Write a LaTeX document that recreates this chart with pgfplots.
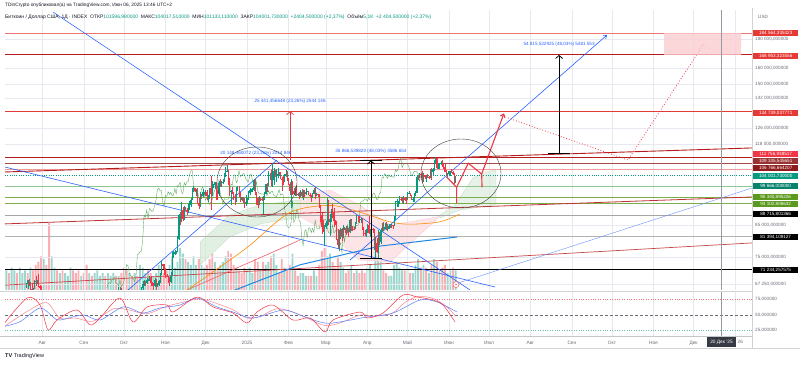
\documentclass[border=0pt]{standalone}
\usepackage{pgfplots}
\usepackage{pgfplotstable}
\pgfplotsset{compat=1.18}
\usepackage{fontspec}
\setmainfont{Liberation Sans}
\usetikzlibrary{arrows.meta}
\definecolor{tvgreen}{HTML}{089981}
\definecolor{tvred}{HTML}{F23645}
\definecolor{dred}{HTML}{B71C1C}
\definecolor{mred}{HTML}{E53935}
\definecolor{maroon}{HTML}{8E1B1B}
\definecolor{tvblue}{HTML}{2962FF}
\definecolor{lblue}{HTML}{1E88E5}
\definecolor{gridc}{HTML}{E6EAF0}
\definecolor{olivec}{HTML}{5B9A1E}
\definecolor{txt}{HTML}{131722}
\definecolor{gtxt}{HTML}{6A6D78}
\definecolor{chik}{HTML}{43A047}
% price axis is logarithmic: prices (in thousand USD) are mapped by ln()
\pgfplotsset{lg/.style={y filter/.expression={ln(y)}}}

\pgfplotstableread{
x o h l c
-165 66.7 67.6 66.2 67.2
-164 67.2 68.4 65.8 68.2
-163 68.2 68.5 66.6 67.6
-162 67.6 67.8 65.5 65.9
-161 65.9 67.1 65.1 65.4
-160 65.4 66.1 63.5 65.8
-159 65.8 68.2 65.8 68.0
-158 68.0 69.4 66.7 67.9
-157 67.9 68.3 67.1 68.3
-156 68.3 70.0 66.5 66.8
-155 66.8 66.9 65.3 66.2
-154 66.2 66.8 64.5 64.6
-153 64.6 65.6 62.3 65.4
-152 65.4 65.6 61.2 61.4
-151 61.4 62.2 59.9 60.7
-96 65.2 66.5 64.8 65.8
-95 65.8 66.3 65.4 65.9
-94 65.9 66.1 65.4 65.6
-79 62.9 66.5 62.4 66.1
-78 66.1 67.9 64.9 67.1
-77 67.1 68.4 66.7 67.6
-76 67.6 67.9 66.7 67.4
-75 67.4 68.9 67.1 68.4
-74 68.4 68.7 68.0 68.5
-73 68.5 69.3 68.1 69.0
-72 69.0 69.5 66.6 67.4
-71 67.4 67.8 66.6 67.3
-70 67.3 67.5 65.3 66.7
-69 66.7 68.8 66.5 68.2
-68 68.2 68.7 65.5 66.6
-67 66.6 67.4 66.5 67.0
-66 67.0 68.3 66.8 68.0
-65 68.0 70.2 67.5 69.9
-64 69.9 73.6 69.7 72.7
-63 72.7 72.9 71.4 72.3
-62 72.3 72.7 69.7 70.2
-61 70.2 71.6 68.8 69.5
-60 69.5 70.0 69.0 69.3
-59 69.3 69.4 67.5 68.7
-58 68.7 69.0 66.8 67.8
-57 67.8 70.5 67.5 69.4
-56 69.4 76.4 69.3 75.6
-55 75.6 76.9 74.6 75.9
-54 75.9 77.2 75.6 76.5
-53 76.5 76.9 75.8 76.7
-52 76.7 81.5 76.5 80.4
-51 80.4 89.0 80.2 88.7
-50 88.7 89.9 85.1 87.9
-49 87.9 93.4 86.2 90.5
-48 90.5 91.8 86.7 87.4
-47 87.4 91.9 87.1 91.1
-46 91.1 91.8 90.1 90.6
-45 90.6 91.4 88.8 89.9
-44 89.9 92.6 89.4 90.5
-43 90.5 94.0 90.4 92.3
-42 92.3 94.9 91.5 94.3
-41 94.3 99.0 94.1 98.4
-40 98.4 99.6 97.2 98.9
-39 98.9 98.9 97.2 97.7
-38 97.7 98.6 95.7 97.9
-37 97.9 98.9 92.6 93.0
-36 93.0 94.9 90.8 91.9
-35 91.9 97.2 91.6 96.0
-34 96.0 96.6 94.6 95.6
-33 95.6 98.7 95.4 97.4
-32 97.4 97.5 96.1 96.4
-31 96.4 98.0 95.7 97.2
-30 97.2 98.1 94.4 95.8
-29 95.8 96.3 93.6 96.0
-28 96.0 99.0 94.7 98.8
-27 98.8 104.0 90.5 96.6
-26 96.6 101.9 95.9 99.9
-25 99.9 100.5 99.0 100.0
-24 100.0 101.4 98.7 101.2
-23 101.2 101.2 94.2 97.4
-22 97.4 98.3 94.3 96.6
-21 96.6 101.9 95.7 101.1
-20 101.1 102.5 99.3 100.0
-19 100.0 101.9 99.2 101.4
-18 101.4 102.6 100.6 101.5
-17 101.5 105.1 101.2 104.3
-16 104.3 107.8 103.3 106.0
-15 106.0 108.4 105.3 106.1
-14 106.1 106.5 100.0 100.2
-13 100.2 102.8 95.7 97.5
-12 97.5 98.1 92.2 97.8
-11 97.8 99.5 96.4 97.3
-10 97.3 97.4 94.2 95.2
-9 95.2 96.5 92.5 94.9
-8 94.9 99.4 93.4 98.7
-7 98.7 99.9 97.6 99.4
-6 99.4 99.9 95.2 95.8
-5 95.8 97.5 93.5 94.2
-4 94.2 95.5 94.0 95.2
-3 95.2 95.2 93.1 93.6
-2 93.6 94.9 91.3 92.6
-1 92.6 96.1 92.0 93.4
0 93.4 94.9 92.7 94.4
1 94.4 97.8 94.2 96.9
2 96.9 98.9 96.1 98.1
3 98.1 98.7 97.5 98.2
4 98.2 98.8 97.3 98.3
5 98.3 102.5 97.9 102.1
6 102.1 102.7 96.1 96.9
7 96.9 97.2 92.5 95.0
8 95.0 95.3 91.2 92.5
9 92.5 95.8 92.2 94.7
10 94.7 94.9 93.8 94.6
11 94.6 95.4 93.7 94.5
12 94.5 95.9 89.2 94.6
13 94.6 97.3 94.3 96.5
14 96.5 100.7 96.5 100.5
15 100.5 100.9 97.4 99.9
16 99.9 105.9 99.9 104.1
17 104.1 104.9 102.3 104.4
18 104.4 106.3 99.6 101.1
19 101.1 109.6 99.5 102.0
20 102.0 107.2 100.1 106.1
21 106.1 106.4 103.3 103.6
22 103.6 106.9 101.2 104.0
23 104.0 107.1 102.8 104.8
24 104.8 105.3 104.1 104.7
25 104.7 105.5 102.5 102.6
26 102.6 103.2 97.8 102.0
27 102.0 103.8 100.3 101.3
28 101.3 104.8 101.3 103.7
29 103.7 106.4 103.3 104.7
30 104.7 106.0 101.6 102.4
31 102.4 102.8 100.3 100.6
32 100.6 101.5 96.2 97.7
33 97.7 102.5 91.2 101.4
34 101.4 101.7 96.2 97.8
35 97.8 98.8 96.2 96.6
36 96.6 99.2 95.7 96.7
37 96.7 100.1 95.6 96.5
38 96.5 96.9 95.7 96.6
39 96.6 97.3 94.7 96.2
40 96.2 98.3 95.3 97.4
41 97.4 98.5 94.9 95.8
42 95.8 98.1 94.1 97.9
43 97.9 98.0 95.2 96.6
44 96.6 98.8 96.3 97.5
45 97.5 97.9 97.2 97.6
46 97.6 97.7 96.1 96.1
47 96.1 97.0 95.2 95.8
48 95.8 96.0 93.4 95.5
49 95.5 96.9 95.1 96.6
50 96.6 98.8 96.4 98.3
51 98.3 99.5 94.8 96.1
52 96.1 96.9 95.8 96.5
53 96.5 96.6 95.2 96.3
54 96.3 96.5 91.2 91.4
55 91.4 92.5 86.1 88.7
56 88.7 89.3 82.3 84.7
57 84.7 87.1 82.8 84.4
58 84.4 85.1 78.2 84.5
59 84.5 86.6 83.8 86.0
60 86.0 95.0 85.0 94.3
61 94.3 94.4 85.1 86.1
62 86.1 88.9 81.4 87.2
63 87.2 91.0 86.3 90.6
64 90.6 92.8 87.8 89.9
65 89.9 91.2 84.7 86.7
66 86.7 86.8 85.3 86.2
67 86.2 86.5 80.1 80.7
68 80.7 83.9 77.5 78.5
69 78.5 83.6 76.6 82.9
70 82.9 84.3 80.6 83.7
71 83.7 84.3 79.9 81.1
72 81.1 85.3 80.8 84.0
73 84.0 84.7 83.6 84.3
74 84.3 85.0 82.0 82.6
75 82.6 84.8 82.5 84.1
76 84.1 84.1 81.2 82.7
77 82.7 87.4 82.5 86.9
78 86.9 87.4 83.2 84.2
79 84.2 84.8 83.2 84.0
80 84.0 84.6 83.6 83.8
81 83.8 86.1 83.8 86.1
82 86.1 88.8 85.6 87.5
83 87.5 88.5 86.3 87.4
84 87.4 88.3 85.9 86.9
85 86.9 87.8 85.9 87.2
86 87.2 87.5 83.6 84.4
87 84.4 84.6 81.6 82.6
88 82.6 83.5 81.6 82.4
89 82.4 83.9 81.3 82.5
90 82.5 85.5 82.4 85.2
91 85.2 88.5 82.3 82.5
92 82.5 83.9 81.2 83.1
93 83.1 84.7 81.7 83.8
94 83.8 84.2 82.4 83.5
95 83.5 83.8 77.2 78.4
96 78.4 81.2 74.4 79.2
97 79.2 80.8 76.2 76.3
98 76.3 83.5 74.6 82.6
99 82.6 82.7 78.5 79.6
100 79.6 84.2 78.9 83.4
101 83.4 85.8 82.8 85.3
102 85.3 86.1 83.1 83.7
103 83.7 85.8 83.7 84.5
104 84.5 86.4 83.6 83.6
105 83.6 85.5 83.1 84.0
106 84.0 85.5 83.8 84.9
107 84.9 85.1 84.3 84.5
108 84.5 85.6 84.3 85.1
109 85.1 85.3 83.9 85.0
110 85.0 88.4 85.0 87.5
111 87.5 93.8 87.1 93.4
112 93.4 94.7 91.7 93.7
113 93.7 94.0 91.7 93.9
114 93.9 95.8 92.9 94.7
115 94.7 95.3 93.9 94.6
116 94.6 95.3 93.0 93.8
117 93.8 95.6 92.9 95.0
118 95.0 95.5 93.8 94.3
119 94.3 95.2 92.9 94.2
120 94.2 97.4 94.1 96.5
121 96.5 97.9 96.4 96.9
122 96.9 96.9 95.7 95.9
123 95.9 96.3 94.2 94.3
124 94.3 95.2 93.5 94.7
125 94.7 96.9 93.4 96.8
126 96.8 97.7 95.8 97.0
127 97.0 103.9 96.9 103.2
128 103.2 104.3 102.3 103.0
129 103.0 104.9 102.8 104.8
130 104.8 105.0 103.0 104.1
131 104.1 105.8 100.8 102.8
132 102.8 105.0 101.5 104.2
133 104.2 104.3 102.6 103.5
134 103.5 104.2 101.4 103.7
135 103.7 104.6 103.1 103.5
136 103.5 103.7 102.6 103.2
137 103.2 106.7 103.1 106.5
138 106.5 107.1 102.0 105.6
139 105.6 107.3 104.2 106.8
140 106.8 110.8 106.1 109.7
141 109.7 112.0 109.3 111.7
142 111.7 111.8 106.8 107.3
143 107.3 109.5 106.9 108.9
144 108.9 109.3 106.6 109.0
145 109.0 110.4 108.7 109.4
146 109.4 110.7 107.6 108.9
147 108.9 109.3 106.8 107.8
148 107.8 108.9 105.3 105.6
149 105.6 106.3 103.6 103.9
150 103.9 104.9 103.1 104.6
151 104.6 105.9 103.8 105.7
152 105.7 105.9 103.7 105.8
153 105.8 106.8 105.0 105.4
154 105.4 106.0 104.2 104.7
155 104.7 105.0 100.4 101.6
156 101.6 104.0 101.1 104.0
}\candles

\pgfplotstableread{
x v d
-180 7 1
-178 6 0
-176 8 1
-174 7 1
-172 6 0
-170 8 1
-168 6 1
-166 7 1
-164 6 0
-162 8 1
-160 7 0
-158 9 0
-156 10 0
-154 12 0
-152 11 1
-150 9 0
-148 24 0
-146 12 1
-144 8 1
-142 7 0
-140 6 1
-138 7 0
-136 6 1
-134 5 1
-132 8 1
-130 7 0
-128 6 0
-126 7 0
-124 5 1
-122 6 0
-120 9 0
-118 6 1
-116 5 0
-114 6 1
-112 7 1
-110 5 1
-108 6 1
-106 5 0
-104 6 1
-102 5 1
-100 6 1
-98 5 0
-96 5 1
-94 6 0
-92 8 0
-90 7 0
-88 6 1
-86 5 0
-84 6 1
-82 5 0
-80 9 1
-78 8 1
-76 6 1
-74 7 0
-72 6 0
-70 5 1
-68 6 1
-66 9 1
-64 7 0
-62 6 0
-60 7 0
-58 9 1
-56 12 1
-54 8 1
-52 10 1
-50 15 1
-48 13 1
-46 11 0
-44 10 1
-42 9 1
-40 12 1
-38 9 1
-36 11 0
-34 9 1
-32 8 1
-30 9 0
-28 11 0
-26 13 0
-24 10 1
-22 8 0
-20 9 1
-18 10 1
-16 12 1
-14 14 0
-12 13 0
-10 9 0
-8 8 1
-6 7 0
-4 6 0
-2 8 0
0 7 1
2 8 1
4 6 1
6 11 0
8 10 0
10 7 1
12 10 0
14 9 1
16 10 1
18 12 0
20 13 1
22 9 1
24 6 0
26 11 0
28 8 1
30 7 0
32 9 0
34 13 1
36 7 0
38 5 0
40 6 1
42 6 1
44 5 1
46 5 0
48 5 0
50 7 1
52 5 1
54 9 0
56 14 0
58 15 0
60 12 1
62 13 1
64 10 0
66 8 0
68 12 0
70 10 1
72 8 1
74 6 0
76 7 0
78 9 1
80 6 0
82 7 1
84 6 0
86 7 0
88 6 0
90 8 1
92 9 1
94 7 0
96 14 1
98 12 1
100 10 1
102 7 0
104 6 0
106 5 1
108 5 1
110 9 1
112 10 1
114 8 1
116 7 1
118 7 0
120 8 1
122 6 0
124 6 1
126 9 1
128 11 1
130 8 0
132 9 1
134 8 0
136 6 1
138 9 0
140 11 1
142 10 0
144 7 1
146 8 0
148 9 0
150 6 1
152 7 1
154 8 0
156 7 1
}\volume

% build candle segment lists (log prices) from the table
\pgfplotstablegetrowsof{\candles}
\pgfmathtruncatemacro\nrows{\pgfplotsretval-1}
\gdef\wup{}\gdef\wdn{}\gdef\bup{}\gdef\bdn{}
\foreach \i in {0,...,\nrows}{%
  \pgfplotstablegetelem{\i}{x}\of\candles\edef\cx{\pgfplotsretval}%
  \pgfplotstablegetelem{\i}{o}\of\candles\edef\co{\pgfplotsretval}%
  \pgfplotstablegetelem{\i}{h}\of\candles\edef\ch{\pgfplotsretval}%
  \pgfplotstablegetelem{\i}{l}\of\candles\edef\cl{\pgfplotsretval}%
  \pgfplotstablegetelem{\i}{c}\of\candles\edef\cc{\pgfplotsretval}%
  \pgfmathparse{ln(\co)}\edef\lo{\pgfmathresult}%
  \pgfmathparse{ln(\ch)}\edef\lh{\pgfmathresult}%
  \pgfmathparse{ln(\cl)}\edef\ll{\pgfmathresult}%
  \pgfmathparse{ln(\cc)}\edef\lc{\pgfmathresult}%
  \ifdim\cc pt<\co pt
    \xdef\wdn{\wdn(\cx,\ll)(\cx,\lh)(\cx,nan)}%
    \xdef\bdn{\bdn(\cx,\lo)(\cx,\lc)(\cx,nan)}%
  \else
    \xdef\wup{\wup(\cx,\ll)(\cx,\lh)(\cx,nan)}%
    \xdef\bup{\bup(\cx,\lo)(\cx,\lc)(\cx,nan)}%
  \fi
}

\tikzset{lvl/.style={font=\fontsize{4.6}{5}\selectfont, text=white, anchor=west, inner xsep=1pt, inner ysep=0pt, minimum width=45pt, minimum height=6.8pt}}
\tikzset{ann/.style={font=\fontsize{4.6}{5}\selectfont, text=tvblue}}

\begin{document}
\begin{tikzpicture}
\fill[white] (0pt,0pt) rectangle (800pt,364pt);
\useasboundingbox (0pt,0pt) rectangle (800pt,364pt);

% volume
\begin{axis}[at={(5pt,74pt)}, anchor=south west, width=747pt, height=280pt, scale only axis,
  xmin=-181, xmax=377.7, ymin=0, ymax=100, hide axis]
\addplot[ybar, bar width=1.9pt, fill=tvgreen!40, draw=none, restrict expr to domain={\thisrow{d}}{1:1}] table[x=x,y=v]{\volume};
\addplot[ybar, bar width=1.9pt, fill=tvred!40, draw=none, restrict expr to domain={\thisrow{d}}{0:0}] table[x=x,y=v]{\volume};
\end{axis}

% main price panel (y = ln of price in thousand USD)
\begin{axis}[at={(5pt,74pt)}, anchor=south west, width=747pt, height=280pt, scale only axis,
  xmin=-181, xmax=377.7, ymin=4.1836, ymax=5.3105,
  axis line style={draw=none}, major tick length=0pt,
  xtick={-153,-122,-92,-61,-31,0,31,59,90,120,151,181,212,243,273,304,334,365},
  xticklabels={},
  ytick={4.2084,4.3175,4.4427,4.7707,4.8363,4.9558,5.0106,5.0752,5.1930},
  yticklabels={{67 250,000000},{75 000,000000},{85 000,000000},{118 000,000000},{126 000,000000},{142 000,000000},{150 000,000000},{160 000,000000},{180 000,000000}},
  yticklabel pos=right,
  yticklabel style={font=\fontsize{4.6}{5}\selectfont, text=gtxt, inner sep=0pt, xshift=3pt},
  grid=major, major grid style={gridc, line width=0.4pt}]

% cloud areas
\addplot[lg, fill=chik!25, draw=chik!40, fill opacity=0.6, line width=0.2pt] coordinates {(-35,79.6)(-13,88.7)(10,92.4)(40,94.3)(40,88.0)(10,85.6)(-13,81.2)(-35,72.6)(-35,79.6)};
\addplot[lg, fill=tvred!18, draw=tvred!30, fill opacity=0.7, line width=0.2pt] coordinates {(40,96.2)(62,98.1)(84,92.4)(107,85.2)(144.4,88.2)(107,73.4)(84,74.0)(62,82.5)(40,88.0)(40,96.2)};
\addplot[lg, fill=chik!22, draw=chik!40, fill opacity=0.6, line width=0.2pt] coordinates {(144.4,88.7)(155.6,92.4)(163.0,98.1)(169.0,103.0)(178.0,105.5)(186.2,106.3)(186.2,92.4)(174.3,91.6)(159.3,90.5)(144.4,87.7)(144.4,88.7)};

% horizontal levels
\addplot[lg, mred!70, line width=0.5pt] coordinates {(-181,184.564)(377.7,184.564)};
\addplot[lg, dred, line width=1pt] coordinates {(-181,168.953)(377.7,168.953)};
\addplot[lg, mred, line width=0.5pt] coordinates {(-181,134.739)(377.7,134.739)};
\addplot[lg, dred, line width=1.1pt] coordinates {(-181,111.757)(377.7,111.757)};
\addplot[lg, maroon!80, line width=0.6pt] coordinates {(-181,109.336)(377.7,109.336)};
\addplot[lg, mred!50, line width=0.5pt] coordinates {(-181,106.767)(377.7,106.767)};
\addplot[lg, tvgreen, line width=0.3pt, dotted] coordinates {(-181,104.002)(377.7,104.002)};
\addplot[lg, chik!60, line width=0.4pt] coordinates {(-181,99.666)(377.7,99.666)};
\addplot[lg, olivec!80, line width=0.5pt] coordinates {(-181,95.341)(377.7,95.341)};
\addplot[lg, olivec!80, line width=0.5pt] coordinates {(-181,93.103)(377.7,93.103)};
\addplot[lg, gray!70, line width=0.4pt] coordinates {(-181,88.716)(377.7,88.716)};
\addplot[lg, gray!60, line width=0.4pt] coordinates {(-181,81.394)(377.7,81.394)};
\addplot[lg, black, line width=1pt] coordinates {(-181,71.234)(377.7,71.234)};

% sloped red lines
\addplot[lg, dred, line width=0.9pt] coordinates {(-181,105.5)(377.7,116.2)};
\addplot[lg, dred!90, line width=0.8pt] coordinates {(-181,85.6)(377.7,95.4)};
\addplot[lg, dred!80, line width=0.7pt] coordinates {(-181,66.9)(377.7,79.3)};
\addplot[lg, tvred!80, line width=0.6pt] coordinates {(-44.9,65.6)(39.6,80.2)};

% orange MA
\addplot[lg, orange!90!yellow, line width=0.6pt, smooth] coordinates {(-44.9,65.6)(-20,72.0)(2,78.5)(32,89.6)(62,92.2)(84,89.8)(107,86.3)(122,85.5)(144,86.3)(159,89.0)};

% chikou span
\addplot[lg, chik, line width=0.3pt, restrict expr to domain={\thisrow{x}}{-79:200}] table[x expr=\thisrow{x}-26, y=c]{\candles};

% blue lines
\addplot[lg, tvblue, line width=0.6pt] coordinates {(-145.1,200.8)(166.8,65.6)};
\addplot[lg, tvblue, line width=0.6pt] coordinates {(-181,107.6)(185.5,66.4)};
\addplot[lg, tvblue, line width=0.6pt] coordinates {(-89,65.6)(22.4,110.7)};
\addplot[lg, tvblue, line width=0.6pt, -{Straight Barb[length=3pt,width=4pt]}] coordinates {(77.0,74.0)(269.3,183.1)};
\addplot[lg, tvblue!70, line width=0.4pt] coordinates {(155.6,67.2)(377.7,98.9)};
\addplot[lg, lblue, line width=1pt] coordinates {(-9,65.6)(39.6,72.6)(99.5,78.3)(157.1,81.2)};

% candles (segments built from the table)
\edef\tmp{\noexpand\addplot[tvgreen, line width=0.3pt, unbounded coords=jump] coordinates {\wup};}\tmp
\edef\tmp{\noexpand\addplot[tvred, line width=0.3pt, unbounded coords=jump] coordinates {\wdn};}\tmp
\edef\tmp{\noexpand\addplot[tvgreen, line width=0.95pt, unbounded coords=jump] coordinates {\bup};}\tmp
\edef\tmp{\noexpand\addplot[tvred, line width=0.95pt, unbounded coords=jump] coordinates {\bdn};}\tmp

% measurement arrows
\addplot[lg, black, line width=0.8pt, -{Straight Barb[length=3pt,width=7pt]}] coordinates {(92.7,74.6)(92.7,110.5)};
\addplot[lg, black, line width=0.8pt] coordinates {(84.5,74.6)(100.9,74.6)};
\addplot[lg, black, line width=0.8pt] coordinates {(84.5,110.5)(100.9,110.5)};
\addplot[lg, black, line width=0.8pt, -{Straight Barb[length=3pt,width=7pt]}] coordinates {(233.4,113.9)(233.4,168.953)};
\addplot[lg, black, line width=0.8pt] coordinates {(225.2,113.9)(241.6,113.9)};
\addplot[lg, mred, line width=0.7pt, -{Straight Barb[length=3pt,width=7pt]}] coordinates {(32.2,110.7)(32.2,134.739)};

% red projection
\addplot[lg, tvred, line width=1.1pt] coordinates {(149.1,103.5)(156.8,99.2)(156.8,93.0)};
\addplot[lg, tvred, line width=1.1pt, -{Straight Barb[length=3pt,width=5pt]}] coordinates {(156.8,99.2)(165.5,109.3)(175.5,104.6)(192.2,133.6)};
\addplot[lg, tvred, line width=1.1pt] coordinates {(175.5,104.6)(175.8,99.2)};
\addplot[lg, tvred, line width=0.8pt, dotted] coordinates {(195.2,131.1)(285.0,110.7)(341.1,175.9)};
\addplot[lg, tvred, line width=0.6pt, dotted] coordinates {(337.4,171.5)(341.1,177.5)(346.3,173.0)};
\addplot[lg, fill=tvred!25, draw=none, fill opacity=0.8] coordinates {(311.9,184.564)(369.5,184.564)(369.5,168.953)(311.9,168.953)(311.9,184.564)};

% crosshair
\addplot[gtxt!70, line width=0.4pt] coordinates {(354.5,4.1836)(354.5,5.3105)};

% annotation texts (y = ln of the price)
\node[ann] at (axis cs:92.7,4.7415) {35 866,539820 (48,03\%) 3586 654};
\node[ann] at (axis cs:233.4,5.1733) {54 815,532925 (48,03\%) 5481 553};
\node[ann] at (axis cs:32.2,4.9416) {25 441,456648 (23,26\%) 2544 146};
\node[ann] at (axis cs:6.7,4.7353) {20 148,460072 (23,26\%) 2014 846};
\end{axis}

% oscillator panel
\begin{axis}[at={(5pt,28pt)}, anchor=south west, width=747pt, height=44pt, scale only axis,
  xmin=-181, xmax=377.7, ymin=16.1, ymax=87.1,
  axis line style={draw=none}, major tick length=0pt,
  xtick={-153,-122,-92,-61,-31,0,31,59,90,120,151,181,212,243,273,304,334,365},
  xticklabels={Авг,Сен,Окт,Ноя,Дек,2025,Фев,Мар,Апр,Май,Июн,Июл,Авг,Сен,Окт,Ноя,Дек,},
  xticklabel style={font=\fontsize{4.8}{5}\selectfont, text=gtxt, yshift=-1.5pt},
  ytick={25,50,75}, yticklabels={{25,000000},{50,000000},{75,000000}},
  yticklabel pos=right,
  yticklabel style={font=\fontsize{4.6}{5}\selectfont, text=gtxt, inner sep=0pt, xshift=3pt},
  xmajorgrids=true, major grid style={gridc, line width=0.4pt}]
\addplot[tvred!70, line width=0.4pt, dotted] coordinates {(-181,75)(377.7,75)};
\addplot[gtxt, line width=0.5pt, dash pattern=on 3pt off 2pt] coordinates {(-181,50)(377.7,50)};
\addplot[tvgreen!60, line width=0.4pt, dotted] coordinates {(-181,25)(377.7,25)};
\addplot[tvred!60, line width=0.5pt, smooth, tension=0.5] coordinates {(-182.5,30)(-165,55)(-150,70)(-140,45)(-128,45)(-115,40)(-100,60)(-88,58)(-75,52)(-60,64)(-45,72)(-35,76)(-22,68)(-10,58)(0,45)(10,48)(22,60)(34,55)(47,43)(58,33)(68,36)(85,50)(95,48)(108,52)(118,70)(128,80)(140,76)(150,62)(156,48)};
\addplot[tvblue!80, line width=0.5pt, smooth, tension=0.5] coordinates {(-182.5,31.1)(-169.8,39.2)(-154.8,61.3)(-145.1,46.8)(-139.9,41.9)(-122.7,50)(-109.9,41.9)(-92.7,62.9)(-77.8,53.2)(-65.1,61.3)(-50.1,66.1)(-37.4,77.4)(-22.4,62.9)(-10.5,54.8)(4.5,45.2)(26.9,58.1)(39.6,50)(54.6,38.7)(64.3,37.1)(89.8,46.8)(109.2,53.2)(129.4,74.2)(142.1,71.0)(157.1,54.8)};
\addplot[tvred, line width=0.5pt, smooth, tension=0.5] coordinates {(-182.5,33.9)(-164.5,77.4)(-154.8,66.1)(-148.8,25.8)(-142.1,41.9)(-127.2,58.1)(-117.4,33.9)(-109.9,45.2)(-95.0,77.4)(-85.3,38.7)(-74.8,62.9)(-59.8,66.1)(-55.3,54.8)(-37.4,79.0)(-25.4,62.9)(-10.5,53.2)(0,37.1)(7.5,54.8)(19.4,66.1)(34.4,41.9)(47.1,45.2)(58.3,22.6)(64.3,41.9)(84.5,54.8)(89.8,45.2)(101.7,53.2)(116.7,82.3)(127.2,79.0)(139.1,74.2)(146.6,66.1)(155.6,38.7)};
\addplot[gtxt!70, line width=0.4pt] coordinates {(354.5,16.1)(354.5,87.1)};
\end{axis}

\begin{scope}[x=1pt,y=1pt]
% circle annotations (picture pixel coordinates)
\draw[black!75, line width=0.4pt] (257,182) ellipse [x radius=40pt, y radius=35pt];
\draw[black!75, line width=0.4pt] (461,190.5) ellipse [x radius=40pt, y radius=34.5pt];
\draw[mred!80, line width=0.5pt, fill=white] (456,79.5) circle [radius=3pt];
\fill[mred!80] (456,79.5) circle [radius=0.9pt];

% price-scale level boxes
\node[lvl, fill=mred] at (753,331) {184 564,335323};
\node[lvl, fill=mred] at (753,308) {168 953,323556};
\node[lvl, fill=mred] at (753,251) {134 739,037771};
\node[lvl, fill=tvred] at (753,210) {111 756,938517};
\node[lvl, fill=maroon!90] at (753,203) {109 335,545651};
\node[lvl, fill=maroon] at (753,196) {106 766,664207};
\node[lvl, fill=tvgreen] at (753,188) {104 001,730000};
\node[lvl, fill=tvgreen!85!black] at (753,178) {99 666,000000};
\node[lvl, fill=olivec] at (753,167) {95 340,895226};
\node[lvl, fill=olivec] at (753,160) {93 102,806632};
\node[lvl, fill=black] at (753,150) {88 715,801366};
\node[lvl, fill=black] at (753,127) {81 394,109127};
\node[lvl, fill=black] at (753,94) {71 234,257575};

% frame lines
\draw[gray!35, line width=0.4pt] (752,16) -- (752,356);
\draw[gray!35, line width=0.4pt] (0,73) -- (752,73);
\draw[gray!45, line width=0.5pt] (0,27.5) -- (752,27.5);
\draw[gray!35, line width=0.4pt] (0,16) -- (800,16);

% crosshair date box and the partly hidden year label
\node[fill=txt!85, text=white, font=\fontsize{4.8}{5}\selectfont, minimum width=29pt, minimum height=10pt, inner sep=0pt] at (721.5,22) {20 Дек '25};
\node[anchor=west, font=\fontsize{4.8}{5}\selectfont, text=gtxt, inner sep=0pt] at (737.5,22) {26};

% header
\node[anchor=west, font=\fontsize{4.8}{5}\selectfont, text=txt, inner sep=0pt] at (5,358.5) {TDinCrypto опубликовал(а) на TradingView.com, Июн 06, 2025 13:46 UTC+2};
\node[anchor=west, font=\fontsize{5}{6}\selectfont, text=txt, inner sep=0pt] at (5,347) {Биткоин / Доллар США, 1Д · INDEX\ \ ОТКР\textcolor{tvgreen}{101596,980000}\ \ МАКС\textcolor{tvgreen}{104017,510000}\ \ МИН\textcolor{tvgreen}{101133,110000}\ \ ЗАКР\textcolor{tvgreen}{104001,730000}\ \ \textcolor{tvgreen}{+2404,500000 (+2,37\%)}\ \ Объём\textcolor{tvgreen}{5,1К}\ \ \textcolor{tvgreen}{+2 404,500000 (+2,37\%)}};
\node[anchor=west, font=\fontsize{4.6}{5}\selectfont, text=gtxt, inner sep=0pt] at (758,347) {USD};
\node[anchor=west, font=\fontsize{5.5}{6}\selectfont, text=txt, inner sep=0pt] at (5,8) {\textbf{TV}\ TradingView};
\end{scope}
\end{tikzpicture}
\end{document}
